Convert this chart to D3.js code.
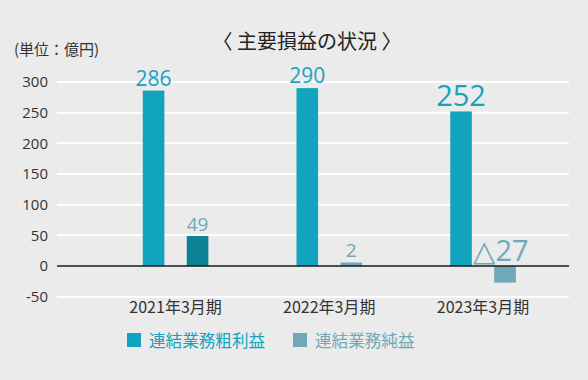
<!DOCTYPE html>
<html><head><meta charset="utf-8">
<script src="https://cdn.jsdelivr.net/npm/d3@7"></script>
<style>
html,body{margin:0;padding:0;background:#ebebeb;}
svg{display:block;}
text{font-family:"Noto Sans CJK JP","Open Sans",sans-serif;}
.num{font-family:"Open Sans","Noto Sans",sans-serif;}
</style></head><body>
<svg id="c" width="588" height="380"></svg>
<script>
const categories = ["2021年3月期", "2022年3月期", "2023年3月期"];
const seriesNames = ["連結業務粗利益", "連結業務純益"];
const grossProfit = [286, 290, 252];
const netProfit = [49, 2, -27];
const valueLabels = [["286", "290", "252"], ["49", "2", "△27"]];
const yTicks = [-50, 0, 50, 100, 150, 200, 250, 300];
const title = "〈 主要損益の状況 〉";
const unitLabel = "(単位：億円)";

// styles
const seriesColors = ["#12a3bf", "#6fa8b8"];
const barColors = [["#12a3bf", "#12a3bf", "#12a3bf"], ["#0b8296", "#6fa8b8", "#6fa8b8"]];
const labelColors = ["#16a2bf", "#6fa8b8"];
const labelSizes = [[21, 21, 29], [19, 19, 29]];

const svg = d3.select("#c");
const y = d3.scaleLinear().domain([-50, 300]).range([296.7, 82]);
const x0 = d3.scaleBand().domain(categories).range([98.7, 559.9]).padding(0);
const x1 = d3.scaleBand().domain([0, 1]).range([-32.8, 32.8]).paddingInner(0.509).paddingOuter(0);
const gridX = [57, 569];

// gridlines
svg.append("g").selectAll("line").data(yTicks.filter(d => d !== 0)).join("line")
  .attr("x1", gridX[0]).attr("x2", gridX[1])
  .attr("y1", d => y(d)).attr("y2", d => y(d))
  .attr("stroke", "#ffffff").attr("stroke-width", 2);

// y axis labels
const yAxis = d3.axisLeft(y).tickValues(yTicks).tickSize(0).tickPadding(0).tickFormat(d => String(d));
const ga = svg.append("g").attr("transform", "translate(48,0)").call(yAxis);
ga.select(".domain").remove();
ga.selectAll("text").attr("class", "num").attr("font-size", 15).attr("fill", "#333")
  .attr("font-family", "'Open Sans',sans-serif");

// bars
const series = [grossProfit, netProfit];
const minH = 3.5;
series.forEach((vals, si) => {
  svg.append("g").selectAll("rect").data(vals).join("rect")
    .attr("x", (d, i) => x0(categories[i]) + x0.bandwidth() / 2 + x1(si))
    .attr("width", x1.bandwidth())
    .attr("y", d => d >= 0 ? y(0) - Math.max(minH, y(0) - y(d)) : y(0))
    .attr("height", d => Math.max(minH, Math.abs(y(d) - y(0))))
    .attr("fill", (d, i) => barColors[si][i]);
});

// zero line
svg.append("line").attr("x1", gridX[0]).attr("x2", gridX[1])
  .attr("y1", y(0)).attr("y2", y(0)).attr("stroke", "#1a1a1a").attr("stroke-width", 1.5);

// value labels
series.forEach((vals, si) => {
  svg.append("g").selectAll("text").data(vals).join("text")
    .attr("class", "num")
    .attr("x", (d, i) => x0(categories[i]) + x0.bandwidth() / 2 + x1(si) + x1.bandwidth() / 2 + (d < 0 ? -4 : 0))
    .attr("y", (d, i) => (d < 0 ? y(0) - 5 : y(Math.max(d, 6)) - 5))
    .attr("text-anchor", "middle")
    .attr("font-size", (d, i) => labelSizes[si][i])
    .attr("fill", labelColors[si])
    .text((d, i) => valueLabels[si][i]);
});

// category labels
const xAxis = d3.axisBottom(x0).tickSize(0).tickPadding(0);
const gx = svg.append("g").attr("transform", "translate(0,302)").call(xAxis);
gx.select(".domain").remove();
gx.selectAll("text").attr("font-size", 16).attr("fill", "#333")
  .attr("font-family", "'Noto Sans CJK JP',sans-serif");

// title and unit
svg.append("text").attr("x", 307).attr("y", 49).attr("text-anchor", "middle")
  .attr("font-size", 20).attr("fill", "#222").text(title);
svg.append("text").attr("x", 14).attr("y", 55)
  .attr("font-size", 15).attr("fill", "#333").text(unitLabel);

// legend
const legendX = [127, 293];
seriesNames.forEach((n, i) => {
  svg.append("rect").attr("x", legendX[i]).attr("y", 333).attr("width", 14).attr("height", 14)
    .attr("fill", seriesColors[i]);
  svg.append("text").attr("x", legendX[i] + 22).attr("y", 346.5)
    .attr("font-size", 16.6).attr("fill", seriesColors[i]).text(n);
});
</script>
</body></html>
